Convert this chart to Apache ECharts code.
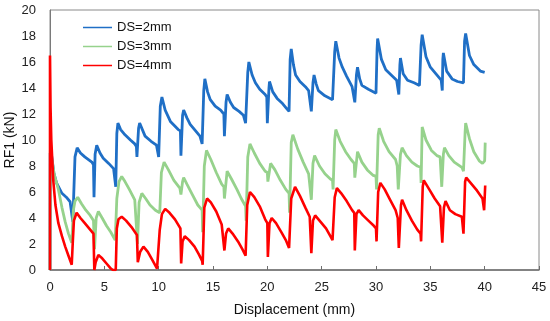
<!DOCTYPE html>
<html>
<head>
<meta charset="utf-8">
<script src="https://cdn.jsdelivr.net/npm/echarts@6/dist/echarts.min.js"></script>
<style>
html,body{margin:0;padding:0;background:#fff;}
#chart{width:550px;height:321px;}
</style>
</head>
<body>
<div id="chart"></div>
<script>
const seriesNames = ['DS=2mm', 'DS=3mm', 'DS=4mm'];
const xTicks = [0, 5, 10, 15, 20, 25, 30, 35, 40, 45];
const yTicks = [0, 2, 4, 6, 8, 10, 12, 14, 16, 18, 20];

const ds2 = [[0,0],[0.02,9.0],[0.15,8.8],[0.35,7.5],[0.6,6.7],[1.1,5.9],[1.5,5.6],[1.85,5.25],[2.0,5.1],[2.1,3.7],[2.3,8.7],[2.5,9.4],[2.8,9.0],[3.2,8.7],[3.85,8.3],[4.0,8.1],[4.05,5.6],[4.15,8.9],[4.3,9.6],[4.6,9.0],[4.9,8.6],[5.4,8.2],[5.85,7.8],[6.05,6.4],[6.15,10.5],[6.25,11.3],[6.5,10.8],[6.9,10.4],[7.4,10.0],[7.8,9.7],[7.95,9.5],[8.0,8.7],[8.15,10.9],[8.25,11.3],[8.5,10.8],[8.75,10.3],[9.3,9.9],[9.8,9.6],[10.0,8.7],[10.15,12.6],[10.3,13.3],[10.6,12.3],[11.1,11.4],[11.8,10.8],[12.0,10.7],[12.05,8.8],[12.2,11.9],[12.3,12.3],[12.6,11.7],[12.9,11.2],[13.4,10.7],[13.8,10.3],[14.0,9.7],[14.15,13.8],[14.25,14.7],[14.5,13.7],[14.75,13.1],[15.2,12.6],[15.7,12.3],[16.0,12.0],[16.05,10.3],[16.2,12.9],[16.3,13.5],[16.6,12.9],[16.9,12.5],[17.4,12.2],[17.8,11.9],[18.0,11.3],[18.2,15.2],[18.3,16.0],[18.6,15.0],[18.9,14.4],[19.3,13.9],[19.8,13.5],[19.95,13.3],[20.0,11.3],[20.15,14.0],[20.2,14.5],[20.5,13.7],[20.9,13.2],[21.4,12.8],[21.8,12.4],[22.0,12.2],[22.1,16.2],[22.2,17.0],[22.4,15.8],[22.6,15.0],[23.0,14.5],[23.5,14.1],[23.8,13.8],[24.05,12.2],[24.2,14.4],[24.3,15.0],[24.5,14.3],[24.7,13.8],[25.3,13.4],[26.0,13.1],[26.2,16.8],[26.3,17.6],[26.6,16.3],[26.9,15.6],[27.3,14.9],[27.8,14.1],[28.05,12.9],[28.2,15.0],[28.3,15.6],[28.5,14.7],[28.7,14.2],[29.3,13.9],[30.0,13.6],[30.1,17.0],[30.15,17.8],[30.5,16.2],[30.9,15.4],[31.4,15.0],[31.9,14.6],[32.1,13.5],[32.2,15.8],[32.25,16.3],[32.5,15.1],[32.9,14.6],[33.5,14.4],[34.0,14.2],[34.15,17.3],[34.25,18.1],[34.6,16.4],[35.0,15.6],[35.5,15.1],[36.0,14.6],[36.1,13.8],[36.15,16.2],[36.2,16.7],[36.5,15.3],[37.0,14.7],[37.5,14.5],[38.05,14.4],[38.15,17.6],[38.25,18.2],[38.6,16.5],[39.0,15.8],[39.6,15.3],[40.0,15.2]];

const ds3 = [[0,0],[0.03,9.2],[0.15,8.6],[0.4,7.3],[0.77,6.2],[1.1,4.8],[1.4,3.7],[1.7,2.8],[2.0,2.1],[2.15,4.6],[2.3,5.3],[2.55,5.6],[2.9,5.1],[3.3,4.6],[3.7,4.2],[4.0,3.8],[4.1,1.6],[4.25,4.0],[4.45,4.5],[4.8,4.0],[5.2,3.4],[5.6,2.9],[6.0,2.3],[6.15,5.5],[6.35,6.8],[6.6,7.2],[6.9,6.8],[7.3,6.2],[7.8,5.4],[8.05,2.0],[8.2,5.2],[8.45,5.9],[8.8,5.5],[9.2,5.0],[9.7,4.6],[10.1,4.4],[10.25,7.5],[10.5,8.3],[10.9,7.7],[11.4,6.9],[11.95,6.3],[12.05,5.8],[12.2,6.8],[12.3,7.1],[12.6,6.6],[13.1,5.8],[13.6,5.0],[14.0,4.6],[14.05,2.9],[14.2,8.0],[14.4,9.2],[14.8,8.5],[15.3,7.5],[15.8,6.6],[16.0,6.4],[16.05,5.5],[16.3,7.6],[16.7,7.0],[17.2,6.2],[17.6,5.5],[18.0,4.9],[18.05,3.8],[18.2,8.7],[18.4,9.7],[18.8,9.0],[19.3,8.2],[19.8,7.6],[20.0,7.5],[20.05,6.8],[20.3,8.2],[20.7,7.7],[21.2,6.9],[21.7,6.2],[22.0,5.9],[22.05,4.4],[22.2,9.8],[22.35,10.4],[22.8,9.3],[23.3,8.3],[23.8,7.4],[24.05,5.4],[24.2,8.2],[24.35,8.8],[24.8,8.0],[25.3,7.4],[25.8,7.0],[26.0,6.9],[26.05,6.2],[26.2,10.0],[26.3,10.8],[26.7,9.9],[27.2,9.1],[27.7,8.5],[28.0,8.2],[28.05,7.1],[28.3,9.1],[28.7,8.3],[29.2,7.7],[29.7,7.3],[30.0,7.2],[30.05,6.2],[30.2,10.4],[30.3,10.9],[30.7,9.9],[31.2,9.1],[31.8,8.5],[31.95,8.0],[32.05,6.2],[32.25,8.9],[32.4,9.4],[32.8,8.8],[33.3,8.3],[33.8,8.0],[34.1,7.9],[34.15,6.7],[34.25,11.0],[34.6,10.0],[35.1,9.2],[35.6,8.8],[35.9,8.7],[36.05,6.4],[36.2,8.9],[36.3,9.4],[36.7,8.8],[37.2,8.3],[37.9,7.9],[38.05,7.6],[38.2,10.6],[38.25,11.3],[38.6,10.1],[39.0,9.1],[39.5,8.4],[39.8,8.2],[40.0,8.4],[40.05,9.8]];

const ds4 = [[0,0],[0,16.5],[0.05,12.5],[0.12,10.0],[0.3,6.9],[0.5,5.0],[0.77,3.6],[1.1,2.6],[1.4,1.8],[1.7,1.1],[2.0,0.4],[2.1,2.2],[2.2,3.8],[2.45,4.4],[2.8,4.0],[3.2,3.6],[3.6,3.2],[4.0,2.8],[4.08,0],[4.2,0.6],[4.45,1.15],[4.8,0.9],[5.2,0.5],[5.6,0.1],[5.8,0],[6.05,0],[6.15,3.2],[6.3,3.9],[6.6,4.1],[7.0,3.8],[7.5,3.3],[8.0,2.7],[8.08,0.6],[8.3,1.4],[8.6,1.8],[9.0,1.4],[9.4,0.8],[9.85,0.1],[9.95,0],[10.1,3.1],[10.3,4.3],[10.6,4.7],[11.0,4.4],[11.5,3.9],[12.0,3.2],[12.07,0.5],[12.2,2.2],[12.4,2.6],[12.8,2.3],[13.3,1.8],[13.7,1.2],[14.0,0.7],[14.05,0.4],[14.2,4.8],[14.45,5.5],[14.8,5.2],[15.3,4.5],[15.8,3.5],[16.05,1.5],[16.2,2.8],[16.4,3.2],[16.8,2.8],[17.3,2.2],[17.7,1.6],[18.0,1.1],[18.15,5.0],[18.4,6.0],[18.8,5.6],[19.3,4.9],[19.8,3.9],[20.0,3.6],[20.05,1.0],[20.2,3.6],[20.4,4.0],[20.8,3.6],[21.3,2.9],[21.7,2.3],[22.0,1.7],[22.2,5.5],[22.55,6.4],[23.0,5.7],[23.5,4.8],[23.9,4.1],[24.05,1.3],[24.2,3.8],[24.4,4.2],[24.9,3.7],[25.4,3.2],[25.8,2.6],[26.0,2.3],[26.2,5.6],[26.4,6.3],[26.8,5.9],[27.3,5.3],[27.8,4.6],[28.0,4.4],[28.05,1.5],[28.2,4.3],[28.4,4.6],[28.8,4.2],[29.3,3.8],[29.8,3.4],[30.0,3.2],[30.05,2.2],[30.2,6.0],[30.4,6.7],[30.8,6.2],[31.3,5.4],[31.8,4.6],[32.0,4.0],[32.1,1.7],[32.3,5.0],[32.4,5.4],[32.8,4.6],[33.3,3.8],[33.8,3.1],[34.1,2.8],[34.15,2.2],[34.3,6.4],[34.4,6.9],[34.9,6.2],[35.4,5.5],[35.9,4.9],[36.1,2.1],[36.25,4.8],[36.4,5.3],[36.8,4.6],[37.3,4.3],[37.9,4.1],[38.05,2.8],[38.2,6.8],[38.3,7.1],[38.8,6.6],[39.3,6.1],[39.8,5.5],[39.95,4.6],[40.05,6.5]];

const colors = ['#1f6fc6', '#96d28c', '#ff0000'];
const widths = [2.8, 2.8, 2.6];
const allData = [ds2, ds3, ds4];

const chart = echarts.init(document.getElementById('chart'), null, {renderer: 'canvas'});
const font = '"Liberation Sans", Arial, sans-serif';

chart.setOption({
  animation: false,
  backgroundColor: '#fff',
  grid: {
    left: 50, right: 11, top: 10, bottom: 51,
    containLabel: false, outerBoundsMode: 'none',
    show: true, borderColor: '#8a8a8a', borderWidth: 1
  },
  legend: {
    data: seriesNames,
    orient: 'vertical',
    left: 78, top: 16,
    itemWidth: 29, itemHeight: 14, itemGap: 6,
    icon: 'path://M0,0 L29,0 L29,1.5 L0,1.5 Z',
    textStyle: {fontFamily: font, fontSize: 13, color: '#111'}
  },
  xAxis: {
    type: 'value', min: xTicks[0], max: xTicks[xTicks.length - 1], interval: 5,
    name: 'Displacement (mm)', nameLocation: 'middle', nameGap: 33,
    nameMoveOverlap: false,
    nameTextStyle: {fontFamily: font, fontSize: 14, color: '#111'},
    axisLine: {show: true, lineStyle: {color: '#6e6e6e', width: 1.5}},
    axisTick: {show: true, inside: true, length: 4, lineStyle: {color: '#6e6e6e'}},
    axisLabel: {fontFamily: font, fontSize: 13, color: '#222', margin: 11},
    splitLine: {show: false}
  },
  yAxis: {
    type: 'value', min: yTicks[0], max: yTicks[yTicks.length - 1], interval: 2,
    name: 'RF1 (kN)', nameLocation: 'middle', nameGap: 33, nameRotate: 90,
    nameMoveOverlap: false,
    nameTextStyle: {fontFamily: font, fontSize: 14, color: '#111'},
    axisLine: {show: true, lineStyle: {color: '#7a7a7a', width: 1}},
    axisTick: {show: false},
    axisLabel: {fontFamily: font, fontSize: 13, color: '#222', margin: 14},
    splitLine: {show: false}
  },
  series: allData.map((d, i) => ({
    name: seriesNames[i],
    type: 'line',
    data: d,
    symbol: 'none',
    showSymbol: false,
    color: colors[i],
    lineStyle: {color: colors[i], width: widths[i]},
    z: 2 + i
  }))
});
</script>
</body>
</html>
